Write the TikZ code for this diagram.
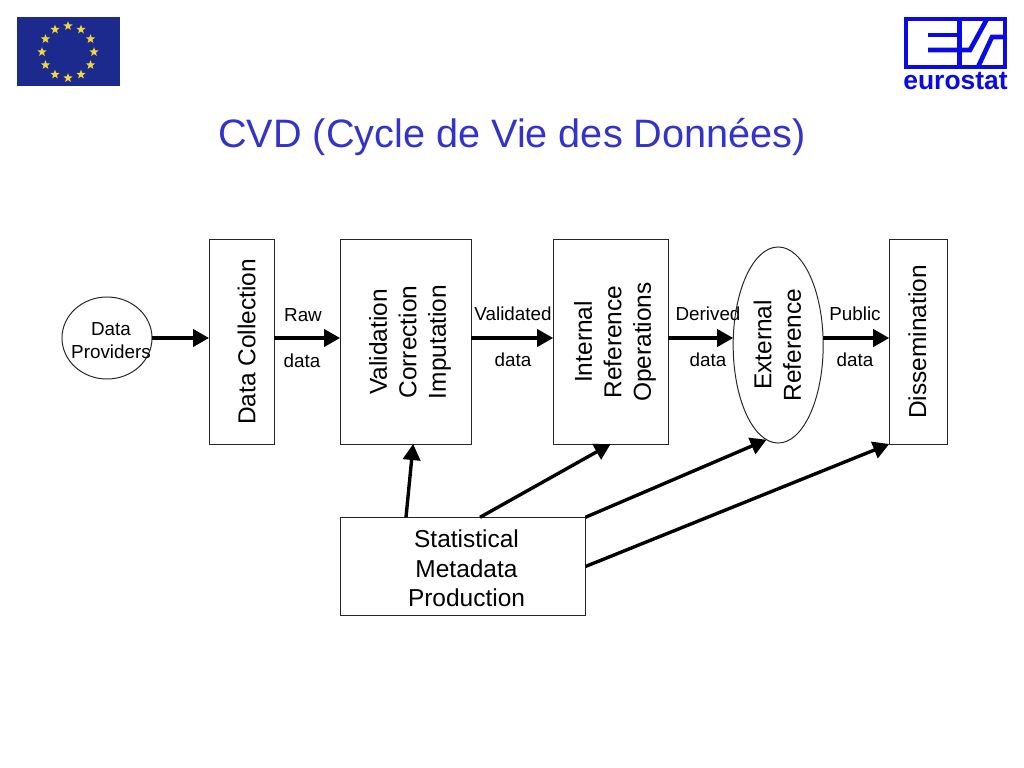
\documentclass[tikz,border=0pt]{standalone}
\usepackage{fontspec}
\usepackage{graphicx}
\setmainfont{Liberation Sans}
\usetikzlibrary{arrows.meta, positioning, calc, shapes.geometric}
\definecolor{TitleBlue}{HTML}{3333CC}
\definecolor{FlagBlue}{HTML}{1B2A8C}
\definecolor{StarYellow}{HTML}{F2D83B}
\definecolor{LogoBlue}{HTML}{0A0AE6}
\newcommand{\rottext}[2][0.24cm]{\hspace*{#1}\rotatebox{90}{\begin{tabular}{@{}c@{}}#2\end{tabular}}}
\newcommand{\stacktext}[1]{\hspace*{0.175cm}\begin{tabular}{@{}c@{}}#1\end{tabular}}
\newcommand{\wideline}[1]{\makebox[1.4cm]{\hspace{0.2cm}#1}}
\tikzset{
  box/.style={draw=black!85, line width=0.7pt, fill=white, align=center, outer sep=0pt, inner sep=0pt, font=\fontsize{17.4}{21}\selectfont},
  tallbox/.style={box, minimum height=5.1cm},
  bubble/.style={ellipse, draw=black!85, line width=0.7pt, fill=white, align=center, outer sep=0pt, inner sep=0pt},
  smalllabel/.style={font=\fontsize{13.4}{16.4}\selectfont, align=center, inner sep=0pt},
  arrow/.style={-{Triangle[length=4mm,width=4.3mm]}, line width=2.4pt, draw=black},
  logobar/.style={draw=LogoBlue, line width=3.3pt}
}
\begin{document}
\begin{tikzpicture}[x=0.025cm, y=-0.025cm]
\useasboundingbox (0,0) rectangle (1024,768);
% flag
\node[fill=FlagBlue, minimum width=2.575cm, minimum height=1.725cm, inner sep=0pt, outer sep=0pt] (flag) at (68.5,51.5) {};
\foreach \a in {0,30,...,330}
  \node[star, star points=5, star point ratio=2.4, fill=StarYellow, inner sep=0pt, minimum size=0.24cm] (star\a) at ($(68,52)+(\a:0.65cm)$) {};
% logo
\node[draw=LogoBlue, line width=3.3pt, minimum width=2.47cm, minimum height=1.2cm, inner sep=0pt, outer sep=0pt] (logo) at (955.5,43) {};
\coordinate (logomid) at (959.5,43);
\draw[logobar] (logomid |- logo.north) -- (logomid |- logo.south);
\draw[logobar] (928,35) -- (959.5,35);
\draw[logobar] (928,50) -- (970,50) -- (987,19);
\draw[logobar] (1004,37) -- (992,37) -- (978,67);
\node[font=\fontsize{18.8}{19}\selectfont\bfseries, text=LogoBlue, inner sep=0pt] (logotext) at (955.5,81.5) {eurostat};
% title
\node[font=\fontsize{28.2}{32}\selectfont, text=TitleBlue, inner sep=0pt] (title) at (512,137) {CVD (Cycle de Vie des Données)};

\node[bubble, smalllabel, minimum width=2.25cm, minimum height=2.05cm] (prov) at (107,338) {\rule{0pt}{12.4pt}\wideline{Data}\\\wideline{Providers}};
\node[tallbox, minimum width=1.625cm, right=1.425cm of prov, yshift=-0.1cm] (coll) {\rottext[0.4cm]{Data Collection}};
\node[tallbox, minimum width=3.275cm, right=1.65cm of coll] (valid) {\rottext{Validation\\Correction\\Imputation}};
\node[tallbox, minimum width=2.875cm, right=2.05cm of valid] (intern) {\rottext{Internal\\Reference\\Operations}};
\node[bubble, font=\fontsize{17.4}{21}\selectfont, fill=none, minimum width=2.25cm, minimum height=4.9cm, right=1.625cm of intern, yshift=-0.075cm] (extern) {\rottext[0.1cm]{External\\Reference}};
\node[tallbox, minimum width=1.45cm, right=1.65cm of extern, yshift=0.075cm] (dissem) {\rottext[0.1cm]{Dissemination}};
\node[box, minimum width=6.12cm, minimum height=2.425cm] (meta) at (463,566.5) {\stacktext{\rule{0pt}{21.7pt}Statistical\\Metadata\\Production}};

\draw[arrow] (prov.east) -- (prov.east -| coll.west);
\draw[arrow] (coll.east |- prov) -- (valid.west |- prov);
\draw[arrow] (valid.east |- prov) -- (intern.west |- prov);
\draw[arrow] (intern.east |- prov) -- (extern.west |- prov);
\draw[arrow] (extern.east |- prov) -- (dissem.west |- prov);

\draw[arrow] ([xshift=-1.425cm]meta.north) -- ([xshift=0.19cm]valid.south);
\draw[arrow] ([xshift=0.425cm]meta.north) -- (intern.south);
\draw[arrow] (meta.north east) -- (extern.263);
\draw[arrow] (meta.east) -- (dissem.south west);

\node[smalllabel] (rawtop) at (303,315) {Raw};
\node[smalllabel] (rawbot) at (302,361) {data};
\node[smalllabel] (validtop) at (513,314) {Validated};
\node[smalllabel] (validbot) at (513,360) {data};
\node[smalllabel] (derivtop) at (708,314) {Derived};
\node[smalllabel] (derivbot) at (708,360) {data};
\node[smalllabel] (pubtop) at (855,314) {Public};
\node[smalllabel] (pubbot) at (855,360) {data};
\end{tikzpicture}
\end{document}
